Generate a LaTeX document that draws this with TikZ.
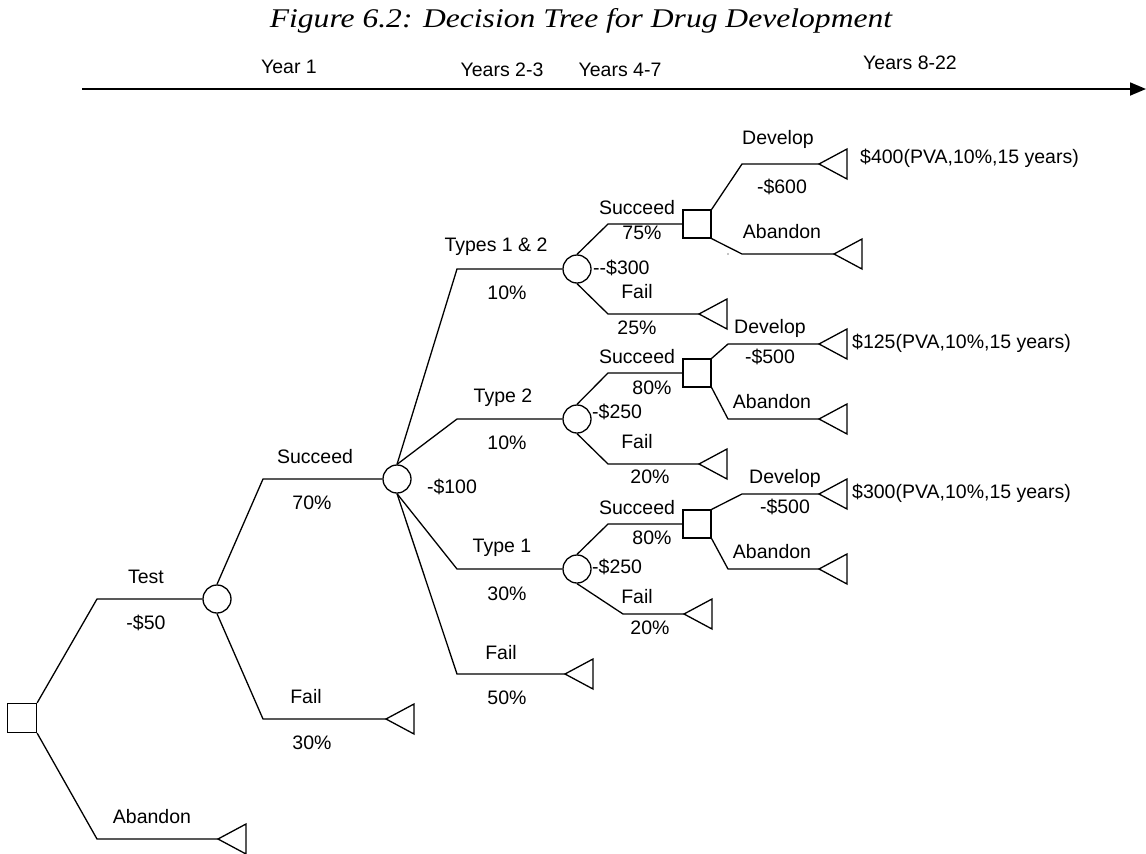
\documentclass[tikz,border=0pt]{standalone}
\usepackage{fontspec}
\usepackage{graphicx}
\setmainfont{Liberation Sans}
\newfontfamily\titlefont{Liberation Serif}
\usetikzlibrary{arrows.meta}
\begin{document}
\begin{tikzpicture}[x=1pt,y=-1pt,
  lbl/.style={font=\fontsize{19.5}{22}\selectfont, inner sep=0pt},
  chance/.style={circle, draw, line width=1.3pt, minimum size=28pt, inner sep=0pt},
  decision/.style={rectangle, draw, line width=1.3pt, minimum size=28pt, inner sep=0pt},
  br/.style={line width=1.3pt, line join=miter},
  term/.pic={\draw[line width=1.3pt, line join=miter] (0,0) -- (28,-15) -- (28,15) -- cycle;}
]
\useasboundingbox (0,0) rectangle (1146,854);

% title and time axis
\node[inner sep=0pt] (title) at (581,21) {\scalebox{1.17}[1]{\titlefont\itshape\fontsize{27}{30}\selectfont Figure 6.2: Decision Tree for Drug Development}};
\node[lbl] (y1) at (289,67) {Year 1};
\node[lbl] (y23) at (502,70) {Years 2-3};
\node[lbl] (y47) at (620,70) {Years 4-7};
\node[lbl] (y822) at (910,63) {Years 8-22};
\coordinate (axs) at (82,89);
\coordinate (axe) at (1146,89);
\draw[line width=1.8pt, -{Triangle[length=16pt,width=13pt]}] (axs) -- (axe);

% nodes
\node[decision, minimum size=29pt] (R) at (22,718) {};
\node[chance] (C1) at (217,599) {};
\node[chance] (C2) at (397,479) {};
\node[chance] (C3) at (577,269) {};
\node[chance] (C4) at (577,419) {};
\node[chance] (C5) at (577,569) {};
\node[decision] (D1) at (697,224) {};
\node[decision] (D2) at (697,373) {};
\node[decision] (D3) at (697,524) {};

% terminals
\coordinate (Tab) at (218,839);  \pic at (Tab) {term};
\coordinate (Tf1) at (386,719);  \pic at (Tf1) {term};
\coordinate (Tf2) at (565,674);  \pic at (Tf2) {term};
\coordinate (Tf3) at (699,314);  \pic at (Tf3) {term};
\coordinate (Tf4) at (699,464);  \pic at (Tf4) {term};
\coordinate (Tf5) at (684,614);  \pic at (Tf5) {term};
\coordinate (Td1) at (819,164);  \pic at (Td1) {term};
\coordinate (Ta1) at (834,254);  \pic at (Ta1) {term};
\coordinate (Td2) at (819,344);  \pic at (Td2) {term};
\coordinate (Ta2) at (819,419);  \pic at (Ta2) {term};
\coordinate (Td3) at (819,494);  \pic at (Td3) {term};
\coordinate (Ta3) at (819,569);  \pic at (Ta3) {term};

% branches
\draw[br] (R.north east) -- (97,599) -- (C1.west);
\draw[br] (R.south east) -- (97,839) -- (Tab);
\draw[br] (C1.north) -- (263,479) -- (C2.west);
\draw[br] (C1.south) -- (263,719) -- (Tf1);
\draw[br] (C2.north) -- (457,269) -- (C3.west);
\draw[br] (C2.north) -- (457,419) -- (C4.west);
\draw[br] (C2.south) -- (457,569) -- (C5.west);
\draw[br] (C2.south) -- (457,674) -- (Tf2);
\draw[br] (C3.north) -- (608,224) -- (D1.west);
\draw[br] (C3.south) -- (608,314) -- (Tf3);
\draw[br] (C4.north) -- (608,373) -- (D2.west);
\draw[br] (C4.south) -- (608,464) -- (Tf4);
\draw[br] (C5.north) -- (608,524) -- (D3.west);
\draw[br] (C5.south) -- (623,614) -- (Tf5);
\draw[br] (D1.north east) -- (742,164) -- (Td1);
\draw[br] (D1.south east) -- (742,254) -- (Ta1);
\draw[br] (D2.north east) -- (728,344) -- (Td2);
\draw[br] (D2.south east) -- (728,419) -- (Ta2);
\draw[br] (D3.north east) -- (742,494) -- (Td3);
\draw[br] (D3.south east) -- (728,569) -- (Ta3);
\fill (728,254) circle (0.7pt);

% labels
\node[lbl] (lTest) at (146,577) {Test};
\node[lbl] (l50) at (146,623) {-\$50};
\node[lbl] (lAb) at (152,817) {Abandon};
\node[lbl] (lS1) at (315,457) {Succeed};
\node[lbl] (l70) at (312,503) {70\%};
\node[lbl] (lF1) at (306,697) {Fail};
\node[lbl] (l30a) at (312,743) {30\%};
\node[lbl] (l100) at (452,487) {-\$100};
\node[lbl] (lT12) at (496,247) {Types 1 \& 2};
\node[lbl] (l10a) at (507,293) {10\%};
\node[lbl] (lT2) at (503,398) {Type 2};
\node[lbl] (l10b) at (507,443) {10\%};
\node[lbl] (lT1) at (502,548) {Type 1};
\node[lbl] (l30b) at (507,594) {30\%};
\node[lbl] (lF2) at (501,653) {Fail};
\node[lbl] (l50p) at (507,698) {50\%};

\node[lbl] (lS3) at (637,208) {Succeed};
\node[lbl] (l75) at (642,233) {75\%};
\node[lbl, anchor=west] (l300) at (593,268) {-{}-\$300};
\node[lbl] (lF3) at (637,292) {Fail};
\node[lbl] (l25) at (637,328) {25\%};

\node[lbl] (lS4) at (637,357) {Succeed};
\node[lbl] (l80a) at (652,388) {80\%};
\node[lbl, anchor=west] (l250a) at (592,412) {-\$250};
\node[lbl] (lF4) at (637,442) {Fail};
\node[lbl] (l20a) at (650,477) {20\%};

\node[lbl] (lS5) at (637,508) {Succeed};
\node[lbl] (l80b) at (652,538) {80\%};
\node[lbl, anchor=west] (l250b) at (592,567) {-\$250};
\node[lbl] (lF5) at (637,597) {Fail};
\node[lbl] (l20b) at (650,628) {20\%};

\node[lbl] (lD1) at (778,139) {Develop};
\node[lbl] (l600) at (782,187) {-\$600};
\node[lbl] (lA1) at (782,232) {Abandon};
\node[lbl] (lD2) at (770,328) {Develop};
\node[lbl] (l500a) at (770,357) {-\$500};
\node[lbl] (lA2) at (772,402) {Abandon};
\node[lbl] (lD3) at (785,478) {Develop};
\node[lbl] (l500b) at (785,507) {-\$500};
\node[lbl] (lA3) at (772,552) {Abandon};

\node[lbl, anchor=west] (v400) at (860,158) {\$400(PVA,10\%,15 years)};
\node[lbl, anchor=west] (v125) at (852,343) {\$125(PVA,10\%,15 years)};
\node[lbl, anchor=west] (v300) at (852,493) {\$300(PVA,10\%,15 years)};
\end{tikzpicture}
\end{document}
